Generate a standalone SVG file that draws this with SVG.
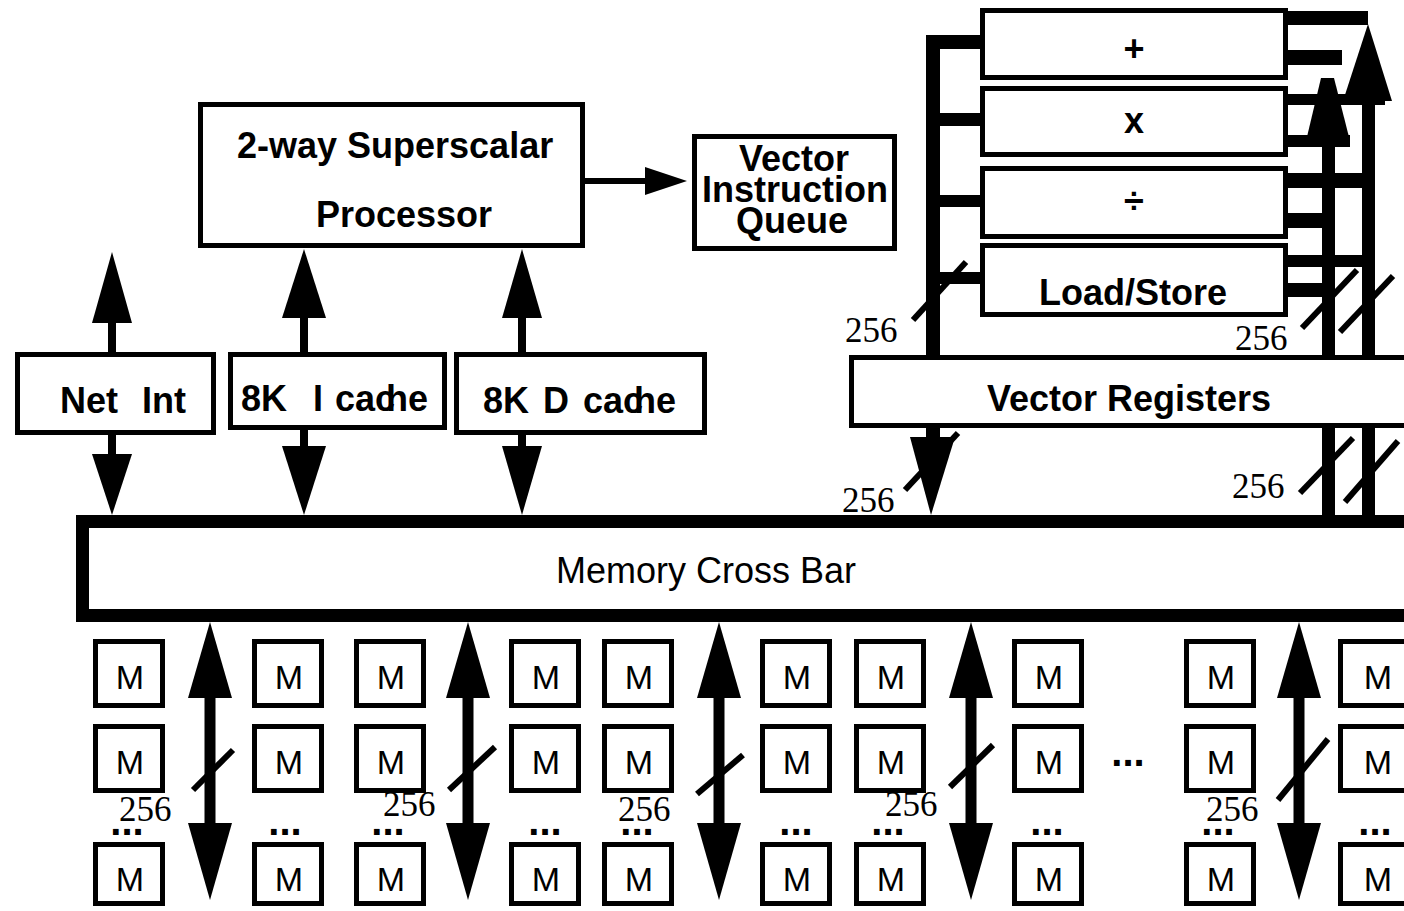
<svg xmlns="http://www.w3.org/2000/svg" width="1404" height="911" viewBox="0 0 1404 911">
<style>
.box{fill:#fff;stroke:#000;stroke-width:5}
.xbar{fill:#fff;stroke:#000;stroke-width:13}
.lbl{font-family:"Liberation Sans",Arial,sans-serif;font-weight:bold;font-size:36px;fill:#000}
.reg{font-family:"Liberation Sans",Arial,sans-serif;font-size:36px;fill:#000}
.m{font-family:"Liberation Sans",Arial,sans-serif;font-size:34px;text-anchor:middle;fill:#000}
.dots{font-family:"Liberation Sans",Arial,sans-serif;font-weight:bold;font-size:40px;text-anchor:middle;fill:#000}
.num{font-family:"Liberation Serif","Times New Roman",serif;font-size:35px;fill:#000}
.mid{text-anchor:middle}
.sl{stroke:#000;stroke-width:6;fill:none}
.blk{fill:#000;stroke:none}
</style>
<defs>
<g id="marrow">
<polygon points="0,0 -22,76 22,76"/>
<rect x="-5.5" y="75" width="11" height="127"/>
<polygon points="-22,201 22,201 0,278"/>
</g>
</defs>

<g id="connectors" class="blk">
<!-- left vector bus -->
<rect x="926" y="35" width="14" height="404"/>
<rect x="926" y="35" width="54" height="14"/>
<rect x="926" y="113" width="54" height="13"/>
<rect x="926" y="195" width="54" height="12"/>
<rect x="926" y="272" width="54" height="12"/>
<polygon points="910,437 955,437 931,515"/>
<!-- right bus A -->
<rect x="1322" y="138" width="13" height="378"/>
<polygon points="1321,78 1334,78 1350,141 1306,141"/>
<!-- right bus B -->
<rect x="1362" y="98" width="13" height="418"/>
<polygon points="1368,24 1392,101 1343,101"/>
<!-- right branches -->
<rect x="1288" y="11" width="80" height="14"/>
<rect x="1288" y="50" width="54" height="15"/>
<rect x="1288" y="94" width="97" height="11"/>
<rect x="1281" y="135" width="69" height="12"/>
<rect x="1288" y="173" width="80" height="15"/>
<rect x="1288" y="213" width="40" height="15"/>
<rect x="1288" y="255" width="80" height="12"/>
<rect x="1288" y="283" width="40" height="14"/>
<!-- Net Int arrows -->
<polygon points="112,252 92,323 132,323"/>
<rect x="108" y="320" width="8" height="34"/>
<rect x="108" y="433" width="8" height="23"/>
<polygon points="92,454 132,454 112,515"/>
<!-- I cache arrows -->
<polygon points="304,249 282,318 326,318"/>
<rect x="300" y="316" width="8" height="38"/>
<rect x="300" y="428" width="8" height="20"/>
<polygon points="282,446 326,446 304,515"/>
<!-- D cache arrows -->
<polygon points="522,249 502,318 542,318"/>
<rect x="518" y="316" width="8" height="38"/>
<rect x="518" y="433" width="8" height="15"/>
<polygon points="502,446 542,446 522,515"/>
<!-- processor to VIQ -->
<rect x="584" y="178" width="62" height="6"/>
<polygon points="645,167 687,181 645,195"/>
<!-- memory arrows -->
<use href="#marrow" x="210" y="622"/>
<use href="#marrow" x="468" y="622"/>
<use href="#marrow" x="719" y="622"/>
<use href="#marrow" x="971" y="622"/>
<use href="#marrow" x="1299" y="622"/>
</g>

<g id="slashes">
<line class="sl" x1="913" y1="320" x2="966" y2="262"/>
<line class="sl" x1="905" y1="490" x2="958" y2="433"/>
<line class="sl" x1="1302" y1="328" x2="1357" y2="270"/>
<line class="sl" x1="1340" y1="332" x2="1393" y2="276"/>
<line class="sl" x1="1300" y1="493" x2="1353" y2="438"/>
<line class="sl" x1="1345" y1="502" x2="1398" y2="441"/>
<line class="sl" x1="193" y1="790" x2="233" y2="750"/>
<line class="sl" x1="449" y1="790" x2="495" y2="747"/>
<line class="sl" x1="697" y1="794" x2="743" y2="755"/>
<line class="sl" x1="950" y1="787" x2="993" y2="745"/>
<line class="sl" x1="1278" y1="800" x2="1328" y2="739"/>
</g>

<g id="widths">
<text class="num" x="845" y="342">256</text>
<text class="num" x="842" y="512">256</text>
<text class="num" x="1235" y="350">256</text>
<text class="num" x="1232" y="498">256</text>
<text class="num" x="119" y="821">256</text>
<text class="num" x="383" y="816">256</text>
<text class="num" x="618" y="821">256</text>
<text class="num" x="885" y="816">256</text>
<text class="num" x="1206" y="821">256</text>
</g>

<g id="processor">
<rect class="box" x="200.5" y="104.5" width="382" height="141"/>
<text class="lbl" x="237" y="158">2-way Superscalar</text>
<text class="lbl" x="316" y="227">Processor</text>
</g>
<g id="viq">
<rect class="box" x="694.5" y="136.5" width="200" height="112"/>
<text class="lbl mid" x="794" y="171">Vector</text>
<text class="lbl mid" x="795" y="202">Instruction</text>
<text class="lbl mid" x="792" y="233">Queue</text>
</g>
<g id="netint">
<rect class="box" x="17.5" y="354.5" width="196" height="78"/>
<text class="lbl" x="60" y="413" style="word-spacing:14px">Net Int</text>
</g>
<g id="icache">
<rect class="box" x="230.5" y="354.5" width="214" height="73"/>
<text class="lbl" x="241" y="411">8K <tspan x="313">I </tspan><tspan x="335">cac</tspan><tspan dx="-9">he</tspan></text>
</g>
<g id="dcache">
<rect class="box" x="456.5" y="354.5" width="248" height="78"/>
<text class="lbl" x="483" y="413">8K <tspan x="543">D </tspan><tspan x="583">cac</tspan><tspan dx="-9">he</tspan></text>
</g>
<g id="add">
<rect class="box" x="982.5" y="10.5" width="303" height="67"/>
<text class="lbl mid" x="1134" y="61">+</text>
</g>
<g id="mul">
<rect class="box" x="982.5" y="88.5" width="303" height="66"/>
<text class="lbl mid" x="1134" y="133">x</text>
</g>
<g id="div">
<rect class="box" x="982.5" y="168.5" width="303" height="68"/>
<text class="lbl mid" x="1134" y="213">÷</text>
</g>
<g id="loadstore">
<rect class="box" x="982.5" y="245.5" width="303" height="69"/>
<text class="lbl mid" x="1133" y="305">Load/Store</text>
</g>
<g id="vregs">
<rect class="box" x="851.5" y="357.5" width="600" height="68"/>
<text class="lbl" x="987" y="411">Vector Registers</text>
</g>
<g id="crossbar">
<rect class="xbar" x="82.5" y="521.5" width="1400" height="94"/>
<text class="reg" x="556" y="583">Memory Cross Bar</text>
</g>

<g id="memory">
<g id="m1-1"><rect class="box" x="95.5" y="641.5" width="67" height="64"/><text class="m" x="130" y="689">M</text></g>
<g id="m1-2"><rect class="box" x="95.5" y="726.5" width="67" height="64"/><text class="m" x="130" y="774">M</text></g>
<g id="m1-3"><rect class="box" x="95.5" y="844.5" width="67" height="59"/><text class="m" x="130" y="891">M</text></g>
<g id="m2-1"><rect class="box" x="254.5" y="641.5" width="67" height="64"/><text class="m" x="289" y="689">M</text></g>
<g id="m2-2"><rect class="box" x="254.5" y="726.5" width="67" height="64"/><text class="m" x="289" y="774">M</text></g>
<g id="m2-3"><rect class="box" x="254.5" y="844.5" width="67" height="59"/><text class="m" x="289" y="891">M</text></g>
<g id="m3-1"><rect class="box" x="356.5" y="641.5" width="67" height="64"/><text class="m" x="391" y="689">M</text></g>
<g id="m3-2"><rect class="box" x="356.5" y="726.5" width="67" height="64"/><text class="m" x="391" y="774">M</text></g>
<g id="m3-3"><rect class="box" x="356.5" y="844.5" width="67" height="59"/><text class="m" x="391" y="891">M</text></g>
<g id="m4-1"><rect class="box" x="511.5" y="641.5" width="67" height="64"/><text class="m" x="546" y="689">M</text></g>
<g id="m4-2"><rect class="box" x="511.5" y="726.5" width="67" height="64"/><text class="m" x="546" y="774">M</text></g>
<g id="m4-3"><rect class="box" x="511.5" y="844.5" width="67" height="59"/><text class="m" x="546" y="891">M</text></g>
<g id="m5-1"><rect class="box" x="604.5" y="641.5" width="67" height="64"/><text class="m" x="639" y="689">M</text></g>
<g id="m5-2"><rect class="box" x="604.5" y="726.5" width="67" height="64"/><text class="m" x="639" y="774">M</text></g>
<g id="m5-3"><rect class="box" x="604.5" y="844.5" width="67" height="59"/><text class="m" x="639" y="891">M</text></g>
<g id="m6-1"><rect class="box" x="762.5" y="641.5" width="67" height="64"/><text class="m" x="797" y="689">M</text></g>
<g id="m6-2"><rect class="box" x="762.5" y="726.5" width="67" height="64"/><text class="m" x="797" y="774">M</text></g>
<g id="m6-3"><rect class="box" x="762.5" y="844.5" width="67" height="59"/><text class="m" x="797" y="891">M</text></g>
<g id="m7-1"><rect class="box" x="856.5" y="641.5" width="67" height="64"/><text class="m" x="891" y="689">M</text></g>
<g id="m7-2"><rect class="box" x="856.5" y="726.5" width="67" height="64"/><text class="m" x="891" y="774">M</text></g>
<g id="m7-3"><rect class="box" x="856.5" y="844.5" width="67" height="59"/><text class="m" x="891" y="891">M</text></g>
<g id="m8-1"><rect class="box" x="1014.5" y="641.5" width="67" height="64"/><text class="m" x="1049" y="689">M</text></g>
<g id="m8-2"><rect class="box" x="1014.5" y="726.5" width="67" height="64"/><text class="m" x="1049" y="774">M</text></g>
<g id="m8-3"><rect class="box" x="1014.5" y="844.5" width="67" height="59"/><text class="m" x="1049" y="891">M</text></g>
<g id="m9-1"><rect class="box" x="1186.5" y="641.5" width="67" height="64"/><text class="m" x="1221" y="689">M</text></g>
<g id="m9-2"><rect class="box" x="1186.5" y="726.5" width="67" height="64"/><text class="m" x="1221" y="774">M</text></g>
<g id="m9-3"><rect class="box" x="1186.5" y="844.5" width="67" height="59"/><text class="m" x="1221" y="891">M</text></g>
<g id="m10-1"><rect class="box" x="1340.5" y="641.5" width="67" height="64"/><text class="m" x="1378" y="689">M</text></g>
<g id="m10-2"><rect class="box" x="1340.5" y="726.5" width="67" height="64"/><text class="m" x="1378" y="774">M</text></g>
<g id="m10-3"><rect class="box" x="1340.5" y="844.5" width="67" height="59"/><text class="m" x="1378" y="891">M</text></g>
</g>

<g id="ellipses">
<text class="dots" x="127" y="835">...</text>
<text class="dots" x="285" y="835">...</text>
<text class="dots" x="388" y="835">...</text>
<text class="dots" x="545" y="835">...</text>
<text class="dots" x="637" y="835">...</text>
<text class="dots" x="796" y="835">...</text>
<text class="dots" x="888" y="835">...</text>
<text class="dots" x="1047" y="835">...</text>
<text class="dots" x="1218" y="835">...</text>
<text class="dots" x="1375" y="835">...</text>
<text class="dots" x="1128" y="766">...</text>
</g>
</svg>
